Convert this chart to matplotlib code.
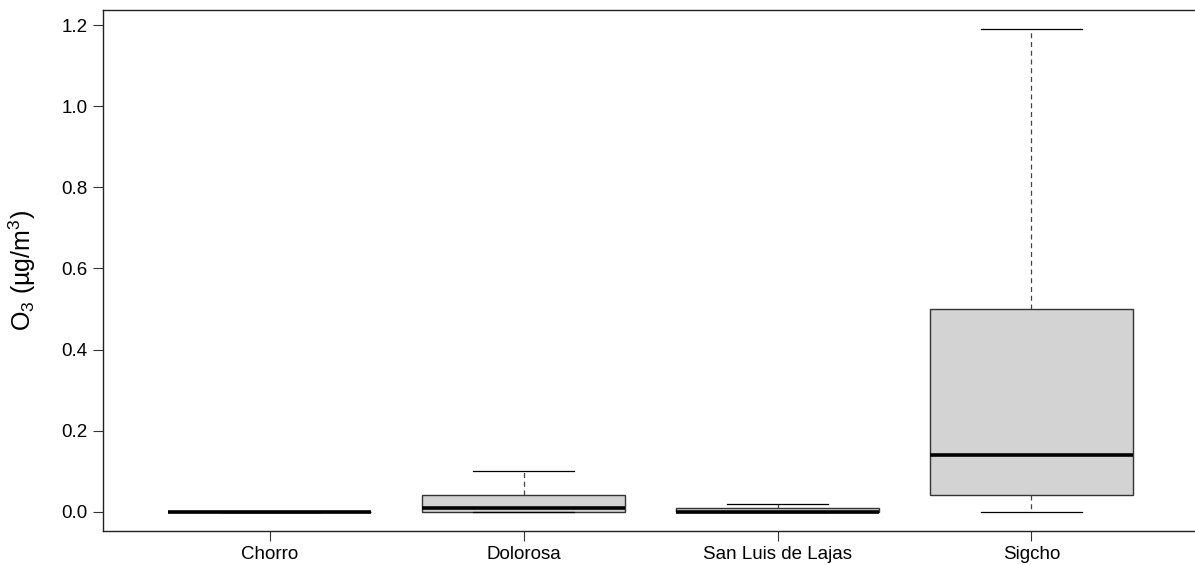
import matplotlib
matplotlib.use("Agg")
import matplotlib.pyplot as plt

plt.rcParams["font.family"] = ["Liberation Sans", "DejaVu Sans"]
plt.rcParams["mathtext.default"] = "regular"

# station names and box statistics (ug/m3)
stations = ["Chorro", "Dolorosa", "San Luis de Lajas", "Sigcho"]
whisker_low = [0.0, 0.0, 0.0, 0.0]
q1 = [0.0, 0.0, 0.0, 0.04]
median = [0.0, 0.01, 0.0, 0.14]
q3 = [0.0, 0.04, 0.01, 0.50]
whisker_high = [0.0, 0.10, 0.02, 1.19]

stats = []
for name, lo, a, m, b, hi in zip(stations, whisker_low, q1, median, q3, whisker_high):
    stats.append({"label": name, "whislo": lo, "q1": a, "med": m, "q3": b, "whishi": hi, "fliers": []})

fig = plt.figure(figsize=(11.95, 5.65), dpi=100)
ax = fig.add_axes([103 / 1195, 34 / 565, 1096 / 1195, 521 / 565])

ax.bxp(
    stats,
    positions=[1, 2, 3, 4],
    widths=0.8,
    capwidths=0.4,
    patch_artist=True,
    showfliers=False,
    boxprops=dict(facecolor="#d3d3d3", edgecolor="#333333", linewidth=1.0),
    medianprops=dict(color="black", linewidth=2.6, solid_capstyle="butt"),
    whiskerprops=dict(color="#444444", linewidth=0.9, linestyle=(0, (4, 3))),
    capprops=dict(color="black", linewidth=0.9),
)

ax.set_xlim(0.343, 4.66)
ax.set_ylim(-0.0476, 1.2376)
ax.set_yticks([0.0, 0.2, 0.4, 0.6, 0.8, 1.0, 1.2])
ax.set_yticklabels(["0.0", "0.2", "0.4", "0.6", "0.8", "1.0", "1.2"])
ax.set_xticks([1, 2, 3, 4])
ax.set_xticklabels(stations)
ax.tick_params(axis="both", length=7, width=0.8, color="#333333", labelsize=13.5, pad=4)
for s in ax.spines.values():
    s.set_linewidth(1.0)
    s.set_color("#222222")

fig.text(22 / 1195, 1 - 270 / 565, "O$_3$ (µg/m$^3$)", fontsize=18,
         rotation=90, ha="center", va="center")

fig.savefig("out.png", dpi=100)
